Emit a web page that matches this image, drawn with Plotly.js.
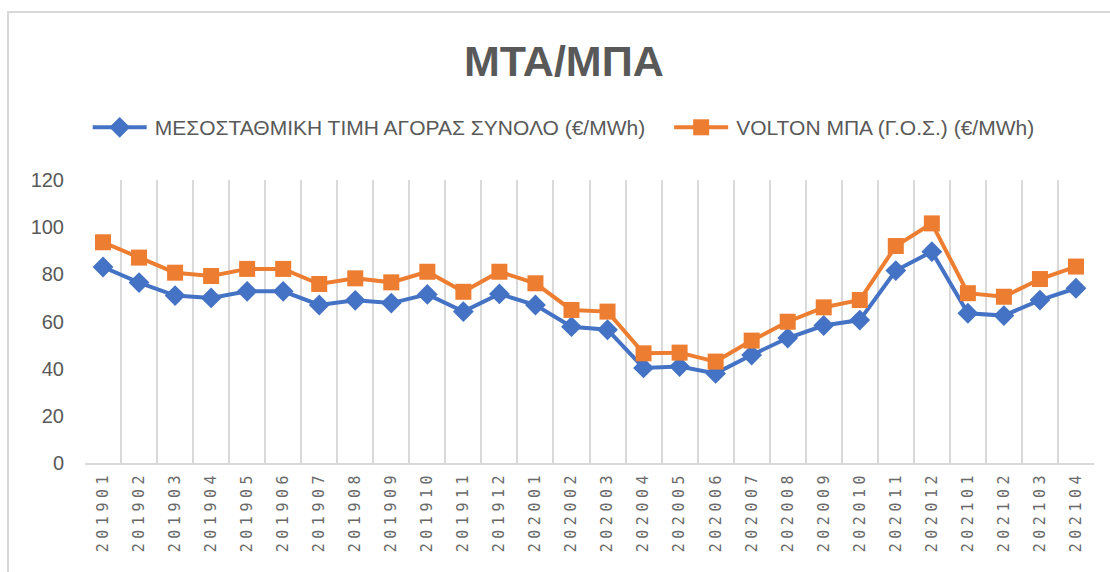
<!DOCTYPE html>
<html>
<head>
<meta charset="utf-8">
<script src="https://cdn.plot.ly/plotly-3.0.1.min.js"></script>
<style>
  html, body { margin:0; padding:0; background:#fff; }
  #wrap { position:relative; width:1110px; height:572px; overflow:hidden; }
  #chart { width:1110px; height:572px; }
  #frame { position:absolute; left:7px; top:11px; width:1120px; height:600px;
           border:2px solid #d9d9d9; box-sizing:border-box; pointer-events:none; }
</style>
</head>
<body>
<div id="wrap">
  <div id="chart"></div>
  <div id="frame"></div>
</div>
<script>
const months = ["201901","201902","201903","201904","201905","201906","201907","201908","201909","201910","201911","201912",
                "202001","202002","202003","202004","202005","202006","202007","202008","202009","202010","202011","202012",
                "202101","202102","202103","202104"];
const avgMarketPrice = [83.1, 76.5, 71.0, 70.0, 72.8, 72.8, 67.0, 69.0, 67.8, 71.5, 64.2, 71.7,
                        67.0, 57.8, 56.5, 40.3, 40.9, 38.0, 45.8, 53.0, 58.3, 60.6, 81.6, 89.6,
                        63.5, 62.5, 69.1, 74.1];
const voltonPrice = [93.6, 87.1, 80.7, 79.3, 82.3, 82.3, 75.9, 78.3, 76.6, 81.1, 72.6, 81.1,
                     76.2, 64.9, 64.2, 46.5, 46.8, 43.0, 51.9, 59.9, 66.0, 69.1, 92.0, 101.6,
                     72.0, 70.5, 78.0, 83.3];
const seriesNames = ["ΜΕΣΟΣΤΑΘΜΙΚΗ ΤΙΜΗ ΑΓΟΡΑΣ ΣΥΝΟΛΟ (€/MWh)", "VOLTON ΜΠΑ (Γ.Ο.Σ.) (€/MWh)"];
const yTicks = [0, 20, 40, 60, 80, 100, 120];

const traces = [
  { x: months, y: avgMarketPrice, name: seriesNames[0], type: "scatter", mode: "lines+markers",
    line: { color: "#4472C4", width: 4 },
    marker: { symbol: "diamond", size: 16, color: "#4472C4" } },
  { x: months, y: voltonPrice, name: seriesNames[1], type: "scatter", mode: "lines+markers",
    line: { color: "#ED7D31", width: 4 },
    marker: { symbol: "square", size: 16, color: "#ED7D31" } }
];

const layout = {
  width: 1110, height: 572,
  paper_bgcolor: "rgba(0,0,0,0)", plot_bgcolor: "#fff",
  margin: { l: 85, r: 16, t: 180, b: 109 },
  font: { family: "Liberation Sans, Arial, sans-serif", color: "#595959" },
  title: { text: "<b>ΜΤΑ/ΜΠΑ</b>", font: { size: 43, color: "#595959", family: "Liberation Sans, Arial, sans-serif" },
           x: 0.508, xref: "container", xanchor: "center", y: 0.893, yref: "container", yanchor: "middle" },
  showlegend: true,
  legend: { orientation: "h", x: 0.465, xanchor: "center", y: 1.185, yanchor: "middle",
            font: { size: 21, color: "#595959" }, itemwidth: 50, tracegroupgap: 0 },
  xaxis: { type: "category", tickson: "boundaries", showgrid: true, gridcolor: "#d9d9d9", gridwidth: 2,
           showline: true, linecolor: "#d9d9d9", linewidth: 2, ticks: "", tickangle: -90,
           tickfont: { family: "DejaVu Sans Mono, Liberation Mono, monospace", size: 15, color: "#6a6a6a" },
           range: [-0.5, 27.5], fixedrange: true },
  yaxis: { range: [0, 120], tickvals: yTicks, showgrid: false, zeroline: false, showline: false,
           tickfont: { size: 20, color: "#595959" }, ticklabelstandoff: 20, fixedrange: true }
};

Plotly.newPlot("chart", traces, layout, { displayModeBar: false, staticPlot: true }).then(function () {
  document.querySelectorAll("#chart .xtick text").forEach(function (t) {
    t.style.letterSpacing = "4.5px";
  });
  // lengthen legend sample lines (Excel style)
  document.querySelectorAll("#chart .legend .legendlines path").forEach(function (p) {
    p.setAttribute("d", "M-2,0h54");
  });
  document.querySelectorAll("#chart .legend .legendpoints path").forEach(function (p) {
    p.setAttribute("transform", "translate(25,0)");
  });
  // wider gap between legend entries
  document.querySelectorAll("#chart .legend .scrollbox, #chart .legend").forEach(function (g) {
    g.removeAttribute("clip-path");
  });
  const items = document.querySelectorAll("#chart .legend .traces");
  if (items.length > 1) {
    const t = items[1].getAttribute("transform") || "";
    const m = t.match(/translate\(\s*([-\d.]+)[ ,]+([-\d.]+)\s*\)/);
    if (m) items[1].setAttribute("transform", "translate(" + (parseFloat(m[1]) + 26) + "," + m[2] + ")");
  }
});
</script>
</body>
</html>
